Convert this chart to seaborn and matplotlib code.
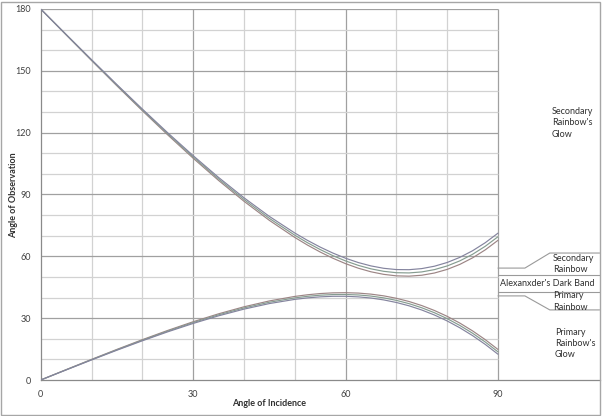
import matplotlib
matplotlib.use("Agg")
import matplotlib.pyplot as plt
import seaborn as sns
import pandas as pd

# angle of incidence (degrees)
incidence = [0, 5, 10, 15, 20, 25, 30, 35, 40, 45, 50, 52.5, 55, 57.5, 60, 62.5,
             65, 67.5, 70, 72.5, 75, 77.5, 80, 82.5, 85, 87.5, 90]

# angle of observation, three colours per bow
primary_red = [0, 5.02, 9.99, 14.85, 19.56, 24.05, 28.26, 32.11, 35.51, 38.36, 40.55,
               41.35, 41.94, 42.28, 42.36, 42.17, 41.66, 40.83, 39.64, 38.08, 36.11,
               33.72, 30.89, 27.60, 23.83, 19.57, 14.82]
primary_green = [0, 4.95, 9.86, 14.65, 19.29, 23.71, 27.85, 31.62, 34.95, 37.72, 39.83,
                 40.60, 41.14, 41.45, 41.49, 41.26, 40.72, 39.85, 38.63, 37.04, 35.04,
                 32.63, 29.77, 26.46, 22.68, 18.42, 13.66]
primary_blue = [0, 4.88, 9.72, 14.45, 19.02, 23.37, 27.43, 31.13, 34.38, 37.08, 39.11,
                39.84, 40.34, 40.61, 40.62, 40.34, 39.77, 38.86, 37.61, 35.99, 33.96,
                31.53, 28.65, 25.32, 21.53, 17.26, 12.50]
secondary_red = [180, 167.47, 155.02, 142.72, 130.66, 118.92, 107.61, 96.84, 86.74, 77.46,
                 69.18, 65.47, 62.10, 59.08, 56.45, 54.25, 52.50, 51.26, 50.53, 50.38,
                 50.83, 51.91, 53.66, 56.10, 59.26, 63.15, 67.77]
secondary_green = [180, 167.57, 155.23, 143.03, 131.07, 119.44, 108.24, 97.57, 87.59, 78.42,
                   70.26, 66.61, 63.30, 60.34, 57.77, 55.62, 53.93, 52.73, 52.06, 51.95,
                   52.44, 53.56, 55.34, 57.81, 60.99, 64.89, 69.51]
secondary_blue = [180, 167.67, 155.43, 143.33, 131.48, 119.95, 108.86, 98.30, 88.43, 79.38,
                  71.33, 67.75, 64.49, 61.59, 59.08, 56.99, 55.35, 54.20, 53.58, 53.52,
                  54.05, 55.21, 57.02, 59.51, 62.71, 66.62, 71.25]

series = {
    ("primary", "red"): primary_red,
    ("primary", "green"): primary_green,
    ("primary", "blue"): primary_blue,
    ("secondary", "red"): secondary_red,
    ("secondary", "green"): secondary_green,
    ("secondary", "blue"): secondary_blue,
}
rows = []
for (bow, colour), values in series.items():
    for x, y in zip(incidence, values):
        rows.append({"incidence": x, "observation": y, "bow": bow, "colour": colour})
df = pd.DataFrame(rows)

sns.set_style("white")
plt.rcParams['font.family'] = ['Lato', 'DejaVu Sans']

fig = plt.figure(figsize=(6.02, 4.16), dpi=100)
ax = fig.add_axes([40.7 / 602, 36 / 416, 558.9 / 602, 371 / 416])

minor_c = '#d2d2d2'
major_c = '#a0a0a0'
for x in range(10, 91, 10):
    ax.vlines(x, 0, 180, color=major_c if x % 30 == 0 else minor_c, lw=0.9, zorder=0)
for y in range(10, 181, 10):
    ax.hlines(y, 0, 90, color=major_c if y % 30 == 0 else minor_c, lw=0.9, zorder=0)

palette = {"red": "#9c8585", "green": "#859c90", "blue": "#84849e"}
sns.lineplot(data=df, x="incidence", y="observation", hue="colour", units="bow",
             estimator=None, palette=palette, lw=0.85, legend=False, ax=ax, zorder=3)

ax.set_xlim(0, 110)
ax.set_ylim(0, 180)
ax.set_xticks([0, 30, 60, 90])
ax.set_xticks(range(0, 91, 10), minor=True)
ax.set_yticks(range(0, 181, 30))
ax.set_yticks(range(0, 181, 10), minor=True)
ax.tick_params(which='both', direction='out', length=3, color='#9a9a9a',
               labelsize=6.5, labelcolor='#404040', pad=4)
for s in ['top', 'right']:
    ax.spines[s].set_visible(False)
for s in ['left', 'bottom']:
    ax.spines[s].set_color('#8a8a8a')
    ax.spines[s].set_linewidth(0.9)

ax.set_xlabel('')
ax.set_ylabel('')
ax.text(45, -11.5, 'Angle of Incidence', ha='center', va='center',
        fontsize=6.5, fontweight='bold', color='#303030')
fig.text(14 / 602, 1 - 195 / 416, 'Angle of Observation', rotation=90, ha='center',
         va='center', fontsize=6.5, fontweight='bold', color='#303030')

# annotation lines on the right
lc = '#9a9a9a'
ax.plot([90, 95.3, 100.2, 110], [54.3, 54.3, 61.6, 61.6], color=lc, lw=0.8, clip_on=False)
ax.plot([90, 110], [50.9, 50.9], color=lc, lw=0.8, clip_on=False)
ax.plot([90, 110], [42.7, 42.7], color=lc, lw=0.8, clip_on=False)
ax.plot([90, 95.3, 100.2, 110], [40.8, 40.8, 34.0, 34.0], color=lc, lw=0.8, clip_on=False)

tc = '#303030'
ax.text(100.6, 124.9, "Secondary\nRainbow's\nGlow", ha='left', va='center',
        fontsize=6.5, color=tc, linespacing=1.35)
ax.text(100.8, 56.4, "Secondary\nRainbow", ha='left', va='center',
        fontsize=6.5, color=tc, linespacing=1.3)
ax.text(99.6, 46.7, "Alexanxder's Dark Band", ha='center', va='center',
        fontsize=6.5, color=tc)
ax.text(100.8, 38.1, "Primary\nRainbow", ha='left', va='center',
        fontsize=6.5, color=tc, linespacing=1.3)
ax.text(101.2, 17.8, "Primary\nRainbow's\nGlow", ha='left', va='center',
        fontsize=6.5, color=tc, linespacing=1.3)

fig.add_artist(plt.Rectangle((1 / 602, 1 / 416), 599 / 602, 413 / 416,
                             transform=fig.transFigure, fill=False,
                             edgecolor='#a6a6a6', lw=1))

fig.savefig('out.png', dpi=100)
